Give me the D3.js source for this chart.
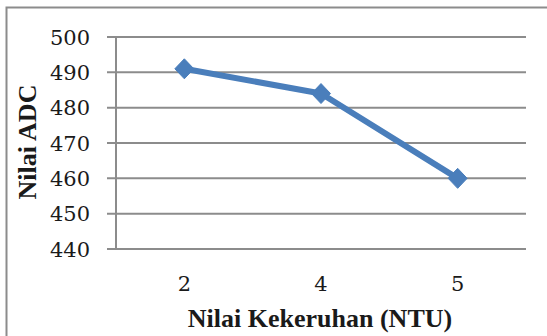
<!DOCTYPE html>
<html>
<head>
<meta charset="utf-8">
<script src="https://cdn.jsdelivr.net/npm/d3@7"></script>
<style>
  html, body { margin: 0; padding: 0; background: #fff; }
  svg { display: block; }
</style>
</head>
<body>
<svg id="chart" width="547" height="336"></svg>
<script>
// Turbidity levels (NTU) and the ADC readings measured for each
const categories = ["2", "4", "5"];
const adcValues = [491, 484, 460];
const yTicks = [440, 450, 460, 470, 480, 490, 500];

const svg = d3.select("#chart");
const W = 547, H = 336;
const plot = { left: 116, right: 526, top: 37, bottom: 249 };
const gray = "#8c8c8c";
const blue = "#4a7ebb";
const serif = "'DejaVu Serif', serif";
const boldSerif = "'Liberation Serif', 'Times New Roman', serif";

// Outer chart frame (runs off the right and bottom edges)
svg.append("path")
  .attr("d", `M6.5,${H + 5} V7.5 H${W + 5}`)
  .attr("fill", "none")
  .attr("stroke", gray)
  .attr("stroke-width", 2);

const x = d3.scaleBand().domain(categories).range([plot.left, plot.right]);
const y = d3.scaleLinear().domain([440, 500]).range([plot.bottom, plot.top]);

// Horizontal gridlines with outward tick stubs
svg.append("g")
  .selectAll("line")
  .data(yTicks)
  .join("line")
  .attr("x1", plot.left - 9)
  .attr("x2", plot.right)
  .attr("y1", d => y(d))
  .attr("y2", d => y(d))
  .attr("stroke", gray)
  .attr("stroke-width", 2);

// Vertical axis line
svg.append("line")
  .attr("x1", plot.left).attr("x2", plot.left)
  .attr("y1", plot.top).attr("y2", plot.bottom)
  .attr("stroke", gray)
  .attr("stroke-width", 2);

// Y tick labels
svg.append("g")
  .selectAll("text")
  .data(yTicks)
  .join("text")
  .attr("x", 90)
  .attr("y", d => y(d))
  .attr("dy", "0.36em")
  .attr("text-anchor", "end")
  .attr("font-family", serif)
  .attr("font-size", 21)
  .attr("fill", "#1a1a1a")
  .text(d => d);

// X tick labels
svg.append("g")
  .selectAll("text")
  .data(categories)
  .join("text")
  .attr("x", d => x(d) + x.bandwidth() / 2)
  .attr("y", 291)
  .attr("text-anchor", "middle")
  .attr("font-family", serif)
  .attr("font-size", 21)
  .attr("fill", "#1a1a1a")
  .text(d => d);

// Axis titles
svg.append("text")
  .attr("x", 320)
  .attr("y", 327)
  .attr("text-anchor", "middle")
  .attr("font-family", boldSerif)
  .attr("font-weight", "bold")
  .attr("font-size", 26)
  .attr("fill", "#1a1a1a")
  .text("Nilai Kekeruhan (NTU)");

svg.append("text")
  .attr("transform", `translate(36,142) rotate(-90)`)
  .attr("text-anchor", "middle")
  .attr("font-family", boldSerif)
  .attr("font-weight", "bold")
  .attr("font-size", 26)
  .attr("fill", "#1a1a1a")
  .text("Nilai ADC");

// Data series
const pts = categories.map((c, i) => ({ c, v: adcValues[i] }));
const line = d3.line()
  .x(d => x(d.c) + x.bandwidth() / 2)
  .y(d => y(d.v));

svg.append("path")
  .datum(pts)
  .attr("d", line)
  .attr("fill", "none")
  .attr("stroke", blue)
  .attr("stroke-width", 6)
  .attr("stroke-linejoin", "round");

// Diamond markers
svg.append("g")
  .selectAll("path")
  .data(pts)
  .join("path")
  .attr("transform", d => `translate(${x(d.c) + x.bandwidth() / 2},${y(d.v)})`)
  .attr("d", "M0,-10 L9.5,0 L0,10 L-9.5,0 Z")
  .attr("fill", blue)
  .attr("stroke", blue)
  .attr("stroke-width", 1);
</script>
</body>
</html>
